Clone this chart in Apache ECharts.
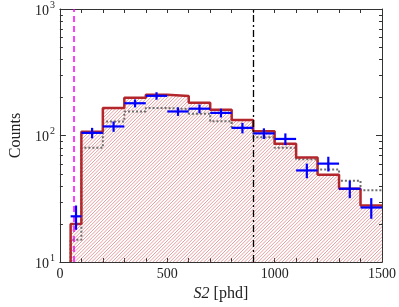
<!DOCTYPE html>
<html><head><meta charset="utf-8">
<script src="https://cdn.jsdelivr.net/npm/echarts@6/dist/echarts.min.js"></script>
<style>html,body{margin:0;padding:0;background:#fff}#c{width:399px;height:307px}</style>
</head><body><div id="c"></div>
<script>
// ---- data ----
const binEdges = [50,100,200,300,400,500,600,700,800,900,1000,1100,1200,1300,1400,1500];
const modelCounts = [20,107,165,199,210,205,182,160,133,108,86,67,49,38,28];
const altCounts = [15,80,129,155,165,162,149,130,115,97,80,65,54,44,37];
const dataCounts = [23,105,118,180,206,155,163,151,115,104,94,53,60,38,27];
const dataErr = [5,10,11,13,14,12,13,12,11,10,10,7,8,6,5];
const yMinorTicks = [20,30,40,50,60,70,80,90,200,300,400,500,600,700,800,900];
const xLabelTicks = [0,500,1000,1500];
const yLabelExps = {10:'1',100:'2',1000:'3'};
const thresholdLow = 65, thresholdHigh = 900;
const xMin = 0, xMax = 1500, yMin = 10, yMax = 1000;

const FONT = 'Liberation Serif';
const HATCH_STEP = 3.4;

function stepPts(counts){
  const pts = [[binEdges[0], yMin]];
  for (let i = 0; i < counts.length; i++) pts.push([binEdges[i], counts[i]]);
  pts.push([binEdges[binEdges.length-1], counts[counts.length-1]]);
  return pts;
}

// diagonal "/" hatch lines clipped to a pixel rect
function hatchPath(x0, y0, x1, y1){
  let d = '';
  const cStart = Math.ceil((x0 + y0) / HATCH_STEP) * HATCH_STEP;
  for (let c = cStart; c <= x1 + y1; c += HATCH_STEP){
    const xa = Math.max(x0, c - y1), xb = Math.min(x1, c - y0);
    if (xb <= xa) continue;
    d += 'M' + xa.toFixed(2) + ' ' + (c - xa).toFixed(2) + 'L' + xb.toFixed(2) + ' ' + (c - xb).toFixed(2);
  }
  return d;
}

const binData = modelCounts.map((v,i)=>[binEdges[i], binEdges[i+1], v]);
const crossData = dataCounts.map((v,i)=>[binEdges[i], binEdges[i+1], (binEdges[i]+binEdges[i+1])/2, v, v-dataErr[i], v+dataErr[i]]);

const axisColor = '#333';
const chart = echarts.init(document.getElementById('c'), null, {renderer:'canvas'});
chart.setOption({
  animation:false,
  backgroundColor:'#fff',
  grid:{left:47, right:16, top:9, bottom:42},
  xAxis:[{
    type:'value', min:xMin, max:xMax, interval:100, position:'bottom',
    axisLine:{show:true, onZero:false, lineStyle:{color:axisColor, width:1}},
    axisTick:{show:true, inside:true, length:4, lineStyle:{color:axisColor}},
    splitLine:{show:false},
    axisLabel:{margin:5, color:'#222', fontFamily:FONT, fontSize:14,
      formatter:v=> xLabelTicks.indexOf(v)>=0 ? String(v) : ''},
    name:'{i|S2} [phd]', nameLocation:'middle', nameGap:22,
    nameTextStyle:{color:'#222', fontFamily:FONT, fontSize:16,
      rich:{i:{fontStyle:'italic', fontFamily:FONT, fontSize:16, color:'#222'}}}
  },{
    type:'value', min:xMin, max:xMax, interval:100, position:'top',
    axisLine:{show:true, onZero:false, lineStyle:{color:axisColor, width:1}},
    axisTick:{show:true, inside:true, length:4, lineStyle:{color:axisColor}},
    axisLabel:{show:false}, splitLine:{show:false}
  }],
  yAxis:[{
    type:'log', logBase:10, min:yMin, max:yMax, position:'left',
    axisLine:{show:true, onZero:false, lineStyle:{color:axisColor, width:1}},
    axisTick:{show:true, inside:true, length:6, lineStyle:{color:axisColor}},
    splitLine:{show:false},
    axisLabel:{margin:5, color:'#222', fontFamily:FONT,
      formatter:v=> '{b|10}{s|' + (yLabelExps[Math.round(v)]||'') + '}',
      rich:{b:{fontFamily:FONT, fontSize:14, color:'#222', lineHeight:18, verticalAlign:'bottom'},
            s:{fontFamily:FONT, fontSize:10, color:'#222', lineHeight:18, verticalAlign:'top', padding:[0,0,0,1]}}},
    name:'Counts', nameLocation:'middle', nameGap:28,
    nameTextStyle:{color:'#222', fontFamily:FONT, fontSize:16}
  },{
    type:'log', logBase:10, min:yMin, max:yMax, position:'right',
    axisLine:{show:true, onZero:false, lineStyle:{color:axisColor, width:1}},
    axisTick:{show:true, inside:true, length:6, lineStyle:{color:axisColor}},
    axisLabel:{show:false}, splitLine:{show:false}
  }],
  series:[
    { // hatch fill under model histogram
      type:'custom', z:1, silent:true,
      data:binData,
      encode:{x:[0,1], y:2},
      renderItem:(params, api)=>{
        const p0 = api.coord([api.value(0), api.value(2)]);
        const p1 = api.coord([api.value(1), yMin]);
        return {type:'path', shape:{pathData:hatchPath(p0[0], p0[1], p1[0], p1[1])},
                style:{fill:null, stroke:'rgba(214,90,92,0.75)', lineWidth:0.8}};
      }
    },
    { // alternative model, dotted
      type:'line', step:'end', data:stepPts(altCounts), symbol:'none', z:3,
      lineStyle:{color:'#6e6e6e', width:2, type:[2,2]}
    },
    { // model step line
      type:'line', step:'end', data:stepPts(modelCounts), symbol:'none', z:4,
      lineStyle:{color:'#b3262b', width:2.5},
      markLine:{symbol:'none', silent:true, label:{show:false}, animation:false,
        data:[
          {xAxis:thresholdLow, lineStyle:{color:'#ff00ff', type:[6,4], width:1.5}},
          {xAxis:thresholdHigh, lineStyle:{color:'#000', type:[7,3,2,3], width:1.3}}
        ]}
    },
    { // y minor ticks (both sides)
      type:'custom', z:6, silent:true,
      data:yMinorTicks.map(v=>[xMin, v]),
      encode:{x:0, y:1},
      renderItem:(params, api)=>{
        const l = api.coord([xMin, api.value(1)]);
        const r = api.coord([xMax, api.value(1)]);
        const st = {stroke:axisColor, lineWidth:1};
        return {type:'group', children:[
          {type:'line', shape:{x1:l[0], y1:Math.round(l[1])+0.5, x2:l[0]+3, y2:Math.round(l[1])+0.5}, style:st},
          {type:'line', shape:{x1:r[0]-3, y1:Math.round(r[1])+0.5, x2:r[0], y2:Math.round(r[1])+0.5}, style:st}
        ]};
      }
    },
    { // data crosses
      type:'custom', z:7, silent:true,
      data:crossData,
      encode:{x:[0,1,2], y:[3,4,5]},
      renderItem:(params, api)=>{
        const a = api.coord([api.value(0), api.value(3)]);
        const b = api.coord([api.value(1), api.value(3)]);
        const c = api.coord([api.value(2), api.value(4)]);
        const d = api.coord([api.value(2), api.value(5)]);
        const st = {stroke:'#0000ff', lineWidth:2.2};
        return {type:'group', children:[
          {type:'line', shape:{x1:a[0], y1:a[1], x2:b[0], y2:b[1]}, style:st},
          {type:'line', shape:{x1:c[0], y1:c[1], x2:d[0], y2:d[1]}, style:st}
        ]};
      }
    }
  ]
});
</script>
</body></html>
